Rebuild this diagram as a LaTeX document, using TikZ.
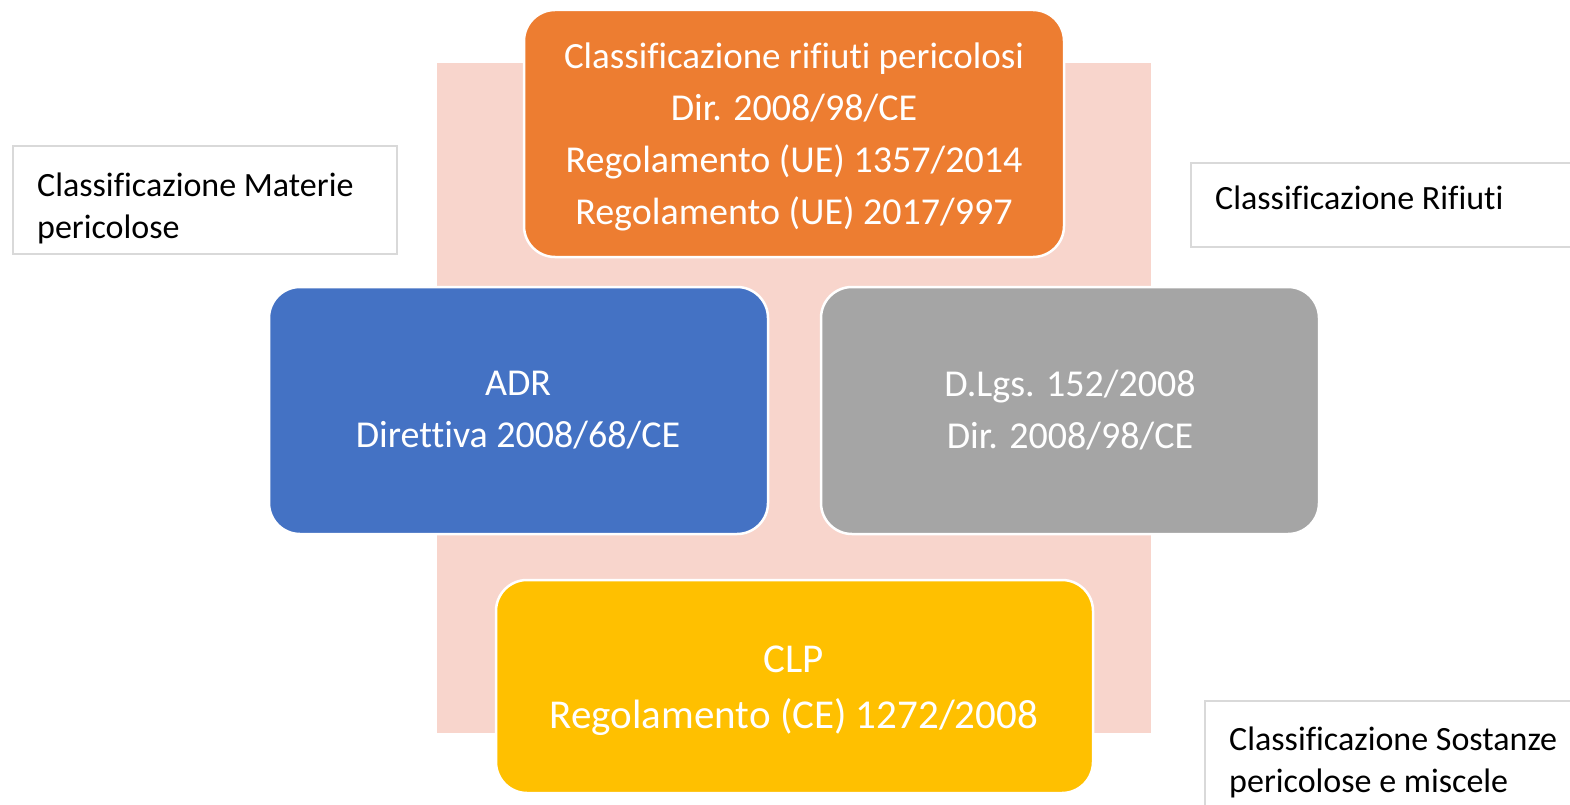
\documentclass[tikz,border=0pt]{standalone}
\usepackage{fontspec}
\setmainfont{Carlito}[Ligatures=NoCommon]
\definecolor{pinkbg}{HTML}{F8D5CC}
\definecolor{orangeb}{HTML}{ED7D31}
\definecolor{blueb}{HTML}{4472C4}
\definecolor{grayb}{HTML}{A5A5A5}
\definecolor{yellowb}{HTML}{FFC000}
\definecolor{frameg}{HTML}{D9D9D9}
\begin{document}
\begin{tikzpicture}[x=1pt,y=-1pt,
  card/.style={draw=white,line width=2.5pt,rounded corners=31pt},
  boxtext/.style={text=white,align=center,inner sep=0pt,font=\fontsize{38}{52}\selectfont},
  labelbox/.style={draw=frameg,line width=1.3pt,fill=white},
  labeltext/.style={anchor=base west,inner sep=0pt,align=left,font=\fontsize{34}{42}\selectfont}]
\useasboundingbox (0,0) rectangle (1570,805);
\fill[pinkbg] (437,63) rectangle (1151,733);
\draw[card,fill=orangeb] (524,10) rectangle (1064,257);
\draw[card,fill=blueb] (269,287) rectangle (768,534);
\draw[card,fill=grayb] (821,287) rectangle (1319,534);
\draw[card,fill=yellowb] (496,580) rectangle (1093,793);
\node[boxtext] (orange) at (794,137) {{\fontsize{37}{52}\selectfont Classificazione rifiuti pericolosi}\\Dir. 2008/98/CE\\Regolamento (UE) 1357/2014\\Regolamento (UE) 2017/997};
\node[boxtext] (blue) at (518,410) {ADR\\Direttiva 2008/68/CE};
\node[boxtext] (gray) at (1070,410) {D.Lgs. 152/2008\\Dir. 2008/98/CE};
\node[boxtext,font=\fontsize{41}{56}\selectfont] (yellow) at (794,691) {CLP\\Regolamento (CE) 1272/2008};
\draw[labelbox] (13,146) rectangle (397,254);
\node[labeltext] (lab1) at (37,238) {Classificazione Materie\\pericolose};
\draw[labelbox] (1191,163) rectangle (1590,247);
\node[labeltext] (lab2) at (1215,209) {Classificazione Rifiuti};
\draw[labelbox] (1205,701) rectangle (1590,830);
\node[labeltext] (lab3) at (1229,792) {Classificazione Sostanze\\pericolose e miscele};
\end{tikzpicture}
\end{document}
